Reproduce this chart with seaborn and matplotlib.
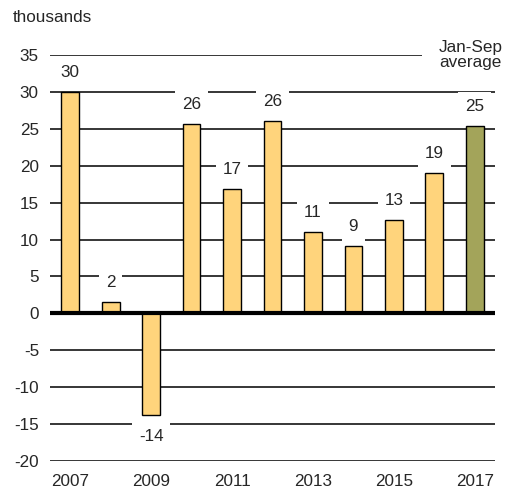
import matplotlib
matplotlib.use("Agg")
import matplotlib.pyplot as plt
import seaborn as sns
import pandas as pd

years = ["2007", "2008", "2009", "2010", "2011", "2012", "2013", "2014", "2015", "2016", "2017"]
values = [30.0, 1.6, -13.8, 25.7, 16.9, 26.1, 11.0, 9.1, 12.7, 19.0, 25.4]
bar_colors = ["#FFD47C"] * 10 + ["#A3A45A"]
yticks = [-20, -15, -10, -5, 0, 5, 10, 15, 20, 25, 30, 35]
xtick_labels = ["2007", "", "2009", "", "2011", "", "2013", "", "2015", "", "2017"]

sns.set_theme(style="white")
plt.rcParams["font.family"] = ["Liberation Sans", "DejaVu Sans"]
FS = 12.3

df = pd.DataFrame({"year": years, "value": values})

fig = plt.figure(figsize=(5.06, 4.91), dpi=100)
ax = fig.add_axes([50 / 506, 1 - 461 / 491, 445 / 506, (461 - 55) / 491])

for yt in yticks:
    if yt == 0:
        continue
    ax.axhline(yt, color="black", lw=1.1, zorder=1)

sns.barplot(data=df, x="year", y="value", hue="year", palette=bar_colors,
            legend=False, width=0.44, edgecolor="black", linewidth=1.0,
            ax=ax, zorder=3, saturation=1)
ax.axhline(0, color="black", lw=3.0, zorder=4)

for i, v in enumerate(values):
    off = 14 if v >= 0 else -15
    ax.annotate(f"{v:.0f}", xy=(i, v), xytext=(0, off), textcoords="offset points",
                ha="center", va="center", fontsize=FS, zorder=2,
                bbox=dict(boxstyle="square,pad=0.4", fc="white", ec="none"))

ax.annotate("Jan-Sep\naverage", xy=(10, 35), xytext=(-3, 0), textcoords="offset points",
            ha="center", va="center", fontsize=FS, linespacing=1.0, zorder=2,
            bbox=dict(boxstyle="square,pad=1.0", fc="white", ec="none"))

ax.set_xlim(-0.5, 10.5)
ax.set_ylim(-20, 35)
ax.set_yticks(yticks)
ax.set_yticklabels([str(t) for t in yticks], fontsize=FS)
ax.set_xticks(range(len(years)))
ax.set_xticklabels(xtick_labels, fontsize=FS)
ax.tick_params(axis="y", length=0, pad=8)
ax.tick_params(axis="x", length=0, pad=9)
ax.set_xlabel("")
ax.set_ylabel("")
for s in ax.spines.values():
    s.set_visible(False)

fig.text(13 / 506, 1 - 18 / 491, "thousands", ha="left", va="center", fontsize=FS)

fig.savefig("out.png", dpi=100)
